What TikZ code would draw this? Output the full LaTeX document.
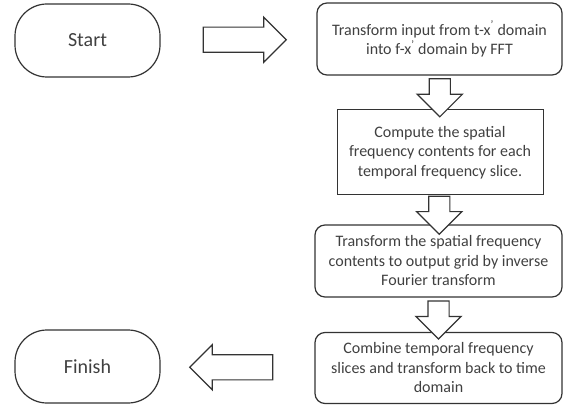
\documentclass[tikz,border=0pt]{standalone}
\usepackage{fontspec}
\setmainfont{Carlito}
\usetikzlibrary{shapes.arrows, calc, positioning}

\begin{document}
\begin{tikzpicture}[x=1pt, y=-1pt, font=\fontsize{16}{19.5}\selectfont]
    \tikzstyle{terminal} = [rectangle, draw=black!80, line width=1.2pt, rounded corners=32pt, minimum width=145pt, minimum height=73pt, text=black!75, font=\fontsize{20}{24}\selectfont]
    \tikzstyle{block} = [rectangle, draw=black!80, line width=1.2pt, rounded corners=10pt, minimum width=247pt, minimum height=72pt, align=center, text=black!75]
    \tikzstyle{plain} = [block, sharp corners, line width=1pt, minimum width=206pt, minimum height=85pt]
    \tikzstyle{harrow} = [single arrow, draw=black!80, line width=1.2pt, fill=white, inner xsep=0pt, inner ysep=12pt, minimum height=83pt, single arrow head extend=10pt]
    \tikzstyle{varrow} = [harrow, shape border rotate=270, inner xsep=10pt, inner ysep=0pt, minimum height=38pt, single arrow head extend=12pt]

    \useasboundingbox (0,0) rectangle (570,406);

    % nodes
    \node[terminal] (start) at (87.5,40.5) {Start};
    \node[block, minimum width=245pt] (fft) at (439.5,39) {Transform input from t-x\textsuperscript{'} domain\\ into f-x\textsuperscript{'} domain by FFT};
    \node[plain] (spatial) at (440,152.5) {Compute the spatial\\ frequency contents for each\\ temporal frequency slice.};
    \node[block] (inverse) at (438.5,261) {Transform the spatial frequency\\ contents to output grid by inverse\\ Fourier transform};
    \node[block, minimum height=71pt] (combine) at (438.5,368) {Combine temporal frequency\\ slices and transform back to time\\ domain};
    \node[terminal] (finish) at (87.5,366.5) {Finish};

    % block arrows
    \node[harrow] (go) at ($(start.east)!0.5!(fft.west)$) {};
    \node[varrow] (down1) at ($(fft.south)!0.5!(spatial.north)$) {};
    \node[varrow] (down2) at ($(spatial.south)!0.5!(inverse.north)$) {};
    \node[varrow] (down3) at ($(inverse.south)!0.5!(combine.north)$) {};
    \node[harrow, shape border rotate=180] (back) at ($(combine.west)!0.5!(finish.east)$) {};
\end{tikzpicture}
\end{document}
